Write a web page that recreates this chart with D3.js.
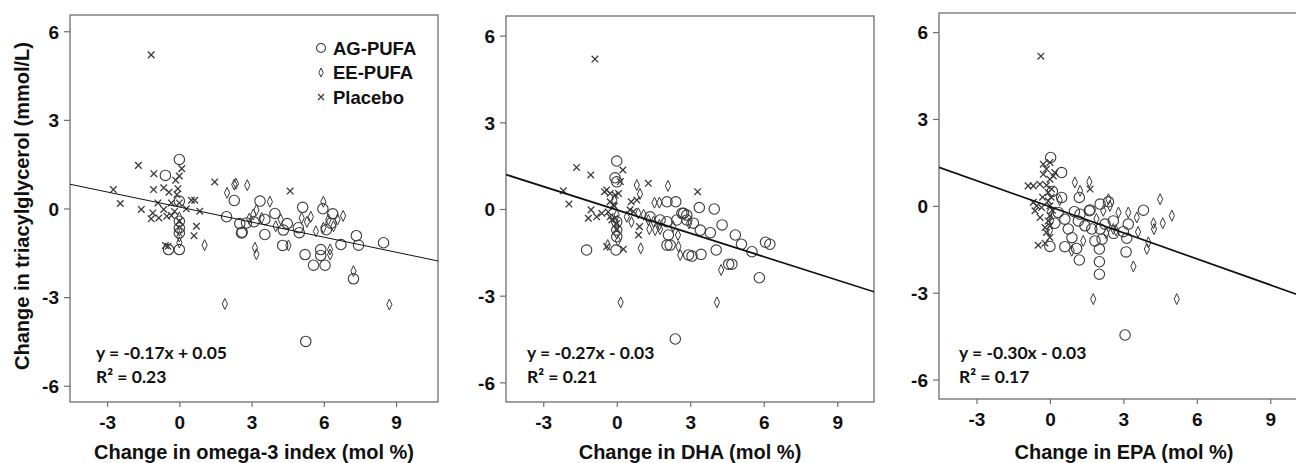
<!DOCTYPE html>
<html>
<head>
<meta charset="utf-8">
<script src="https://cdn.jsdelivr.net/npm/d3@7"></script>
<style>
  body { margin: 0; background: #fff; }
  svg text { font-family: "Liberation Sans", Arial, sans-serif; font-weight: bold; fill: #111; }
  .note { font-family: Lato, "Open Sans", sans-serif; font-weight: bold; }
</style>
</head>
<body>
<div id="chart"></div>
<script>
// tick values shared by every panel
let xTicks = [-3, 0, 3, 6, 9];
let yTicks = [-6, -3, 0, 3, 6];
let groups = ["AG-PUFA", "EE-PUFA", "Placebo"];

// panel 1: change in omega-3 index
let omegaAG = [[0,1.66],[-0.58,1.12],[2.28,0.27],[3.35,0.25],[1.96,-0.28],[2.51,-0.51],[2.79,-0.49],[2.61,-0.8],[0,-0.43],[0,-0.66],[0,-0.83],[-0.45,-1.39],[0,-1.39],[3.97,-0.17],[3.55,-0.37],[3.55,-0.88],[4.48,-0.51],[4.32,-0.73],[4.94,-0.65],[4.98,-0.82],[5.12,0.04],[5.96,-0.01],[6.37,-0.18],[4.29,-1.25],[5.22,-1.56],[5.57,-1.92],[6.05,-1.92],[5.87,-1.39],[5.87,-1.59],[6.71,-1.22],[7.35,-0.92],[7.44,-1.24],[8.48,-1.16],[7.23,-2.38],[5.25,-4.5],[0,0.25],[2.58,-0.83],[3.1,-0.45],[6.3,-0.5],[6.1,-0.72]];
let omegaEE = [[2.28,0.81],[2.82,0.79],[1.98,0.53],[2.35,0.84],[3.76,0.23],[5.98,0.23],[5.46,-0.28],[1.05,-1.24],[3.14,-1.33],[3.2,-1.55],[3.07,-0.2],[3.2,-0.05],[3.42,-0.32],[4.21,-0.37],[5.08,-0.32],[6.19,-0.37],[6.57,-0.37],[6.4,-0.6],[5.98,-0.65],[5.67,-0.77],[4.53,-1.25],[6.26,-1.39],[6.26,-1.56],[7.23,-2.12],[1.89,-3.23],[8.72,-3.25],[0,-0.3],[0,-0.55],[0,-0.75],[0,-0.95],[0,-1.15],[2.9,-0.35],[4.0,-0.6],[5.3,-0.45],[6.8,-0.25]];
let omegaPlacebo = [[-1.17,5.2],[-1.7,1.46],[-1.06,1.18],[-2.74,0.64],[-2.45,0.17],[-1.58,-0.03],[-1.07,0.64],[-0.65,0.7],[-0.43,0.55],[-0.15,0.96],[0,1.1],[0.1,1.35],[-0.06,0.67],[-0.1,0.47],[-0.89,0.19],[-1.1,-0.15],[-1.17,-0.35],[-0.85,-0.32],[-0.65,-0.03],[-0.52,-0.26],[-0.33,-0.24],[-0.33,0.19],[0,0.19],[0.29,-0.01],[0.5,0.28],[0.64,0.28],[0.85,-0.09],[0.71,-0.6],[0.61,-0.92],[1.47,0.9],[4.6,0.59],[-0.47,-1.28],[-0.58,-1.25],[0,-0.43],[-0.2,-0.1]];

// panel 2: change in DHA
let dhaAG = [[0,1.66],[-0.07,1.08],[0,0.94],[0,-0.44],[0,-0.73],[0,-0.96],[-0.03,-1.42],[-1.23,-1.42],[2.05,0.25],[2.41,0.25],[1.36,-0.27],[1.77,-0.38],[2.05,-0.44],[2.11,-0.9],[2.05,-1.25],[2.18,-1.25],[2.45,-0.38],[2.66,-0.15],[2.86,-0.21],[2.93,-1.59],[3.37,0.05],[3.98,0],[4.3,-0.55],[3.41,-0.73],[3.82,-0.82],[4.84,-0.9],[5.09,-1.22],[5.52,-1.48],[6.07,-1.15],[6.25,-1.22],[4.06,-1.42],[3.07,-1.63],[3.44,-1.57],[4.57,-1.91],[4.7,-1.91],[5.82,-2.38],[2.39,-4.5],[2.73,-0.15],[3.13,-0.49],[2.86,-0.38]];
let dhaEE = [[0.82,0.83],[0.95,0.52],[2.09,0.8],[1.54,0.22],[1.74,0.22],[0.41,-0.27],[0.88,-0.15],[1.29,-0.38],[1.5,-0.44],[1.74,-0.55],[1.33,-0.7],[1.57,-0.73],[1.77,-0.7],[2.52,-1.3],[2.59,-1.59],[0.98,-1.36],[-0.37,-1.25],[0.16,-3.23],[4.09,-3.23],[4.26,-2.11],[-0.1,0.3],[0,-0.2],[0,-0.6],[0,-0.85],[0.05,-1.1],[2.3,-0.6],[2.5,-0.9],[1.1,-0.2],[2.95,-0.5],[0.6,-0.45]];
let dhaPlacebo = [[-0.89,5.19],[-1.64,1.44],[-1.06,1.18],[-2.18,0.63],[-1.95,0.17],[-1.05,-0.03],[-1.16,-0.32],[-0.82,-0.27],[-0.61,-0.15],[0.25,1.35],[1.29,0.89],[3.3,0.6],[-0.41,0.66],[-0.27,0.54],[-0.07,0.48],[0.07,0.54],[-0.27,0.25],[-0.14,0.14],[-0.27,-0.27],[-0.2,-0.38],[-0.07,-0.32],[-0.41,-1.3],[0.27,-1.39],[0.93,-0.61],[0.89,-0.9],[0.59,0.25],[0.82,0.31],[0.54,-0.03],[0.68,-0.09],[-0.5,0.6],[0.15,0.95],[-0.1,0.1],[0,-0.5],[-0.35,-0.1],[0,-0.7]];

// panel 3: change in EPA
let epaAG = [[0.03,1.67],[0.48,1.15],[0.48,0.29],[1.2,0.29],[0.34,-0.23],[0.61,-0.46],[0.75,-0.8],[1.23,-0.29],[1.61,-0.17],[1.16,-0.52],[1.43,-0.69],[1.71,-0.8],[2.05,0.06],[2.39,0.14],[2.05,-0.8],[2.25,-0.63],[0,-1.4],[0.61,-1.41],[1.09,-1.47],[1.2,-1.87],[1.84,-1.21],[2.02,-1.49],[2.02,-1.93],[2.02,-2.36],[3.82,-0.15],[2.59,-0.52],[3.2,-0.63],[3,-0.89],[3.14,-1.12],[3.11,-1.59],[2.13,-1.15],[3.07,-4.46],[1.64,-0.14],[0.2,-0.6],[0.1,0.5],[2.6,-0.95],[1,-0.2],[0.9,-1.1]];
let epaEE = [[1.02,0.81],[1.61,0.83],[1.23,0.52],[4.5,0.23],[2.39,0.23],[2.45,0],[2.18,-0.17],[2.8,-0.23],[3.2,-0.23],[3.55,-0.4],[4.98,-0.34],[4.61,-0.6],[4.23,-0.6],[4.25,-0.8],[2.59,-0.8],[2.7,-0.85],[4.02,-1.26],[3.96,-1.49],[3.41,-2.09],[0.89,-1.55],[1.36,-1.21],[1.77,-3.22],[5.18,-3.22],[0,-0.2],[0.05,-0.5],[0,-0.85],[1.9,-0.45],[2.3,-0.95],[0.4,0.2],[3.6,-0.9]];
let epaPlacebo = [[-0.37,5.17],[-0.27,1.44],[0,1.5],[-0.14,1.27],[0.2,1.15],[0.14,1.03],[0,0.92],[-0.27,1.09],[-0.89,0.69],[-0.68,0.69],[-0.41,0.75],[-0.14,0.71],[0.07,0.58],[-0.07,0.46],[1.64,0.58],[-0.68,0.12],[-0.54,0],[-0.61,-0.17],[-0.34,-0.06],[-0.07,0.17],[0,0],[0,-0.34],[-0.07,-0.52],[0,-0.69],[-0.48,-1.36],[-0.2,-1.29],[-0.14,-0.92],[0,-1.09],[-0.3,0.3],[0.1,-0.15],[-0.4,-0.4],[0.05,0.3],[-0.2,-0.75]];

// regression fits: slope, intercept, r squared
let slopes = [-0.17, -0.27, -0.30];
let intercepts = [0.05, -0.03, -0.03];
let rSquared = [0.23, 0.21, 0.17];
let xTitles = ["Change in omega-3 index (mol %)", "Change in DHA (mol %)", "Change in EPA (mol %)"];
let yTitle = "Change in triacylglycerol (mmol/L)";

let width = 1296, height = 463;
let ink = "#3a3a3a";

let svg = d3.select("#chart").append("svg")
    .attr("width", width)
    .attr("height", height);

// frame boxes and domains
let panels = [
    { left: 70, right: 438, top: 15, bottom: 402, xDom: [-4.54, 10.74], yDom: [-6.55, 6.55], lineW: 1,
      data: [omegaAG, omegaEE, omegaPlacebo], noteX: 26, titleX: 254 },
    { left: 506, right: 874, top: 16, bottom: 402, xDom: [-4.52, 10.5], yDom: [-6.68, 6.68], lineW: 1.7,
      data: [dhaAG, dhaEE, dhaPlacebo], noteX: 21, titleX: 690 },
    { left: 939, right: 1307, top: 13, bottom: 399, xDom: [-4.53, 10.5], yDom: [-6.67, 6.66], lineW: 1.7,
      data: [epaAG, epaEE, epaPlacebo], noteX: 20, titleX: 1124 }
];

function drawMarker(g, kind) {
    if (kind == 0) {
        g.append("circle").attr("r", 5.2)
            .attr("fill", "none").attr("stroke", ink).attr("stroke-width", 1.1);
    } else if (kind == 1) {
        g.append("path").attr("d", "M0,-5.5L2.6,0L0,5.5L-2.6,0Z")
            .attr("fill", "none").attr("stroke", ink).attr("stroke-width", 1);
    } else {
        g.append("path").attr("d", "M-3.3,-3.3L3.3,3.3M-3.3,3.3L3.3,-3.3")
            .attr("fill", "none").attr("stroke", ink).attr("stroke-width", 1.3);
    }
}

panels.forEach((p, i) => {
    let x = d3.scaleLinear().domain(p.xDom).range([p.left, p.right]);
    let y = d3.scaleLinear().domain(p.yDom).range([p.bottom, p.top]);
    let g = svg.append("g");

    svg.append("clipPath").attr("id", "clip" + i)
        .append("rect")
        .attr("x", p.left).attr("y", p.top)
        .attr("width", p.right - p.left).attr("height", p.bottom - p.top);

    // frame
    g.append("rect")
        .attr("x", p.left).attr("y", p.top)
        .attr("width", p.right - p.left).attr("height", p.bottom - p.top)
        .attr("fill", "none").attr("stroke", "#6e6e6e").attr("stroke-width", 1.3);

    // plain hyphen minus like the original, not the unicode one
    let fmt = d => String(d);
    let xAxis = g.append("g")
        .attr("transform", `translate(0, ${p.bottom})`)
        .call(d3.axisBottom(x).tickValues(xTicks).tickFormat(fmt).tickSize(5).tickPadding(9));
    let yAxis = g.append("g")
        .attr("transform", `translate(${p.left}, 0)`)
        .call(d3.axisLeft(y).tickValues(yTicks).tickFormat(fmt).tickSize(6).tickPadding(5));
    [xAxis, yAxis].forEach(a => {
        a.select(".domain").remove();
        a.selectAll("line").attr("stroke", "#6e6e6e").attr("stroke-width", 1.2);
        a.selectAll("text").style("font-size", "19px").attr("fill", "#111");
    });
    yAxis.selectAll("text").attr("dy", "0.36em");

    g.append("text")
        .attr("x", p.titleX)
        .attr("y", 459)
        .style("text-anchor", "middle")
        .style("font-size", "20px")
        .text(xTitles[i]);

    // points
    let pts = g.append("g").attr("clip-path", `url(#clip${i})`);
    p.data.forEach((series, k) => {
        series.forEach(d => {
            let m = pts.append("g").attr("transform", `translate(${x(d[0])}, ${y(d[1])})`);
            drawMarker(m, k);
        });
    });

    // fitted line
    pts.append("line")
        .attr("x1", x(p.xDom[0])).attr("y1", y(slopes[i] * p.xDom[0] + intercepts[i]))
        .attr("x2", x(p.xDom[1])).attr("y2", y(slopes[i] * p.xDom[1] + intercepts[i]))
        .attr("stroke", "#111").attr("stroke-width", p.lineW);

    let sign = intercepts[i] < 0 ? "-" : "+";
    g.append("text").attr("class", "note")
        .attr("x", p.left + p.noteX).attr("y", 359)
        .style("font-size", "17.5px")
        .text(`y = ${slopes[i].toFixed(2)}x ${sign} ${Math.abs(intercepts[i]).toFixed(2)}`);
    g.append("text").attr("class", "note")
        .attr("x", p.left + p.noteX).attr("y", 383)
        .style("font-size", "17.5px")
        .text(`R² = ${rSquared[i].toFixed(2)}`);

    // legend lives in the first panel only
    if (i == 0) {
        groups.forEach((name, k) => {
            let ly = 48 + k * 24.5;
            let m = g.append("g").attr("transform", `translate(321, ${ly})`);
            if (k == 0) {
                m.append("circle").attr("r", 4.5).attr("fill", "none").attr("stroke", ink).attr("stroke-width", 1.1);
            } else if (k == 1) {
                m.append("path").attr("d", "M0,-4.5L2.2,0L0,4.5L-2.2,0Z").attr("fill", "none").attr("stroke", ink);
            } else {
                m.append("path").attr("d", "M-3,-3L3,3M-3,3L3,-3").attr("fill", "none").attr("stroke", ink).attr("stroke-width", 1.3);
            }
            g.append("text")
                .attr("x", 333).attr("y", ly + 6.5)
                .style("font-size", "18.5px")
                .text(name);
        });
    }
});

svg.append("text")
    .attr("transform", `translate(29, 206) rotate(-90)`)
    .style("text-anchor", "middle")
    .style("font-size", "20px")
    .text(yTitle);
</script>
</body>
</html>
